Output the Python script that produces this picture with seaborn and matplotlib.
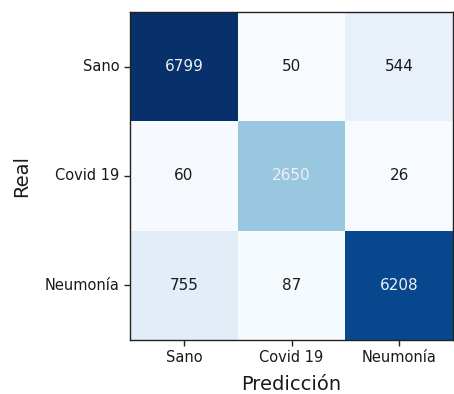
import numpy as np
import pandas as pd
import matplotlib
matplotlib.use("Agg")
import matplotlib.pyplot as plt
import seaborn as sns

# Confusion matrix: rows = true class, columns = predicted class
classes = ["Sano", "Covid 19", "Neumonía"]
row_sano = [6799, 50, 544]
row_covid = [60, 2650, 26]
row_neumonia = [755, 87, 6208]

cm = pd.DataFrame([row_sano, row_covid, row_neumonia], index=classes, columns=classes)

sns.set_style("white")
plt.rcParams["font.family"] = ["DejaVu Sans"]

fig = plt.figure(figsize=(4.54, 3.94), dpi=100)
ax = fig.add_axes([130 / 454, 1 - 340 / 394, 323 / 454, 328 / 394])

sns.heatmap(cm, cmap="Blues", annot=False, cbar=False, square=False, ax=ax,
            linewidths=0)

# Cell annotations: light text on dark cells, dark text elsewhere
vmax = cm.values.max()
for i in range(cm.shape[0]):
    for j in range(cm.shape[1]):
        v = cm.iat[i, j]
        color = "#eef0f4" if v > 0.35 * vmax else "#1a1a1a"
        ax.text(j + 0.5, i + 0.5, f"{v}", ha="center", va="center",
                fontsize=11, color=color)

for s in ax.spines.values():
    s.set_visible(True)
    s.set_color("#222222")
    s.set_linewidth(1.0)

ax.tick_params(axis="both", which="both", length=4, width=1, color="#222222",
               labelsize=10.5, labelcolor="#1a1a1a", left=True, bottom=True)
ax.set_yticklabels(classes, rotation=0)
ax.set_xticklabels(classes, rotation=0)
ax.set_xlabel("Predicción", fontsize=14, color="#1a1a1a", labelpad=7)
ax.set_ylabel("Real", fontsize=14, color="#1a1a1a", labelpad=10)

fig.savefig("out.png", dpi=100)
